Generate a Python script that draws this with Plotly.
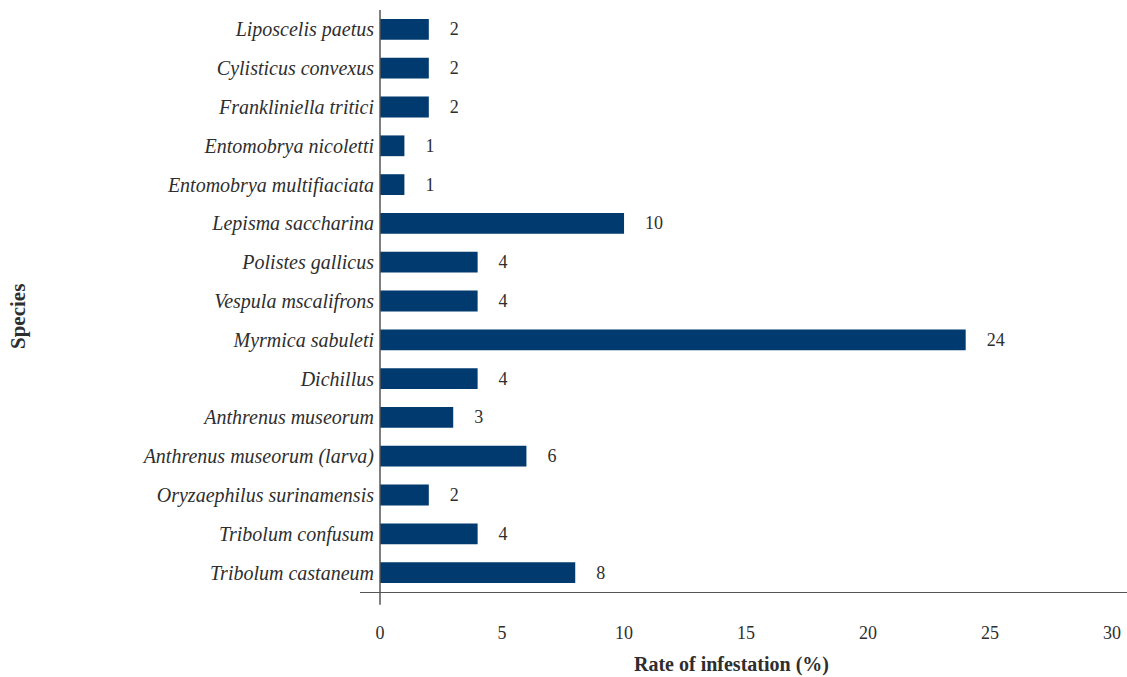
import plotly.graph_objects as go

species = [
    "Tribolum castaneum",
    "Tribolum confusum",
    "Oryzaephilus surinamensis",
    "Anthrenus museorum (larva)",
    "Anthrenus museorum",
    "Dichillus",
    "Myrmica sabuleti",
    "Vespula mscalifrons",
    "Polistes gallicus",
    "Lepisma saccharina",
    "Entomobrya multifiaciata",
    "Entomobrya nicoletti",
    "Frankliniella tritici",
    "Cylisticus convexus",
    "Liposcelis paetus",
]
rates = [8, 4, 2, 6, 3, 4, 24, 4, 4, 10, 1, 1, 2, 2, 2]
x_ticks = [0, 5, 10, 15, 20, 25, 30]

BAR = "#003a6e"
TXT = "#2e2e2e"
FONT = "Liberation Serif"

fig = go.Figure()
fig.add_trace(go.Bar(
    y=species,
    x=rates,
    orientation="h",
    marker=dict(color=BAR, line=dict(width=0)),
    text=["\u2003" + str(v) for v in rates],
    textposition="outside",
    textfont=dict(family=FONT, size=18, color=TXT),
    cliponaxis=False,
    width=0.535,
))

fig.update_layout(
    width=1127,
    height=677,
    margin=dict(l=360, r=0, t=10, b=85),
    plot_bgcolor="white",
    paper_bgcolor="white",
    showlegend=False,
    font=dict(family=FONT, color=TXT),
    xaxis=dict(
        range=[-0.82, 30.61],
        tickvals=x_ticks,
        ticktext=[str(t) for t in x_ticks],
        showgrid=False,
        zeroline=False,
        showline=True,
        linecolor="#555555",
        linewidth=1.3,
        ticks="",
        ticklabelstandoff=24,
        tickfont=dict(family=FONT, size=18, color=TXT),
    ),
    yaxis=dict(
        categoryorder="array",
        categoryarray=species,
        anchor="free",
        position=20 / 767,
        showgrid=False,
        zeroline=False,
        showline=False,
        ticks="",
        ticklabelstandoff=6,
        tickfont=dict(family=FONT, size=20, color=TXT, style="italic"),
    ),
    shapes=[dict(
        type="line", xref="x", yref="paper",
        x0=0, x1=0, y0=-0.022, y1=1,
        line=dict(color="#555555", width=1.5),
    )],
    annotations=[
        dict(
            text="<b>Species</b>", xref="paper", yref="paper",
            x=(18 - 360) / 767, y=(592 - 317) / 582,
            xanchor="center", yanchor="middle", textangle=-90,
            showarrow=False, font=dict(family=FONT, size=21, color=TXT),
        ),
        dict(
            text="<b>Rate of infestation (%)</b>", xref="paper", yref="paper",
            x=(731 - 360) / 767, y=(592 - 664) / 582,
            xanchor="center", yanchor="middle",
            showarrow=False, font=dict(family=FONT, size=20, color=TXT),
        ),
    ],
)

fig.write_html(
    "out.html",
    config={"displayModeBar": False},
    post_script="document.body.style.margin='0';document.body.style.overflow='hidden';",
)
